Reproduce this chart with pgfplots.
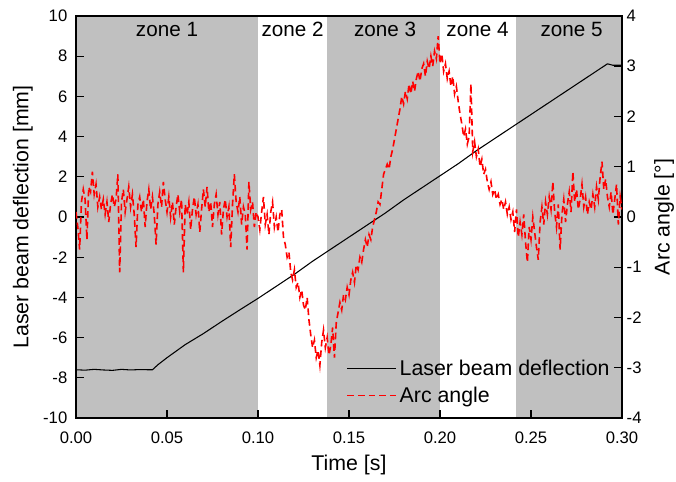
\documentclass[border=0pt]{standalone}
\usepackage{fontspec}
\setmainfont{Liberation Sans}
\usepackage{pgfplots}
\usepackage{pgfplotstable}
\pgfplotsset{compat=1.18}
\definecolor{zonegray}{RGB}{192,192,192}

\pgfplotstableread{
t y
0.000 -7.60
0.005 -7.62
0.010 -7.58
0.015 -7.61
0.020 -7.63
0.025 -7.58
0.030 -7.61
0.035 -7.59
0.040 -7.60
0.042 -7.60
0.045 -7.35
0.050 -7.00
0.060 -6.35
0.070 -5.80
0.080 -5.20
0.090 -4.62
0.100 -4.05
0.110 -3.45
0.120 -2.85
0.130 -2.20
0.140 -1.60
0.150 -1.00
0.160 -0.40
0.170 0.20
0.180 0.85
0.190 1.45
0.200 2.05
0.210 2.65
0.220 3.30
0.230 3.90
0.240 4.50
0.250 5.10
0.260 5.70
0.270 6.30
0.280 6.90
0.290 7.50
0.292 7.62
0.295 7.55
0.300 7.55
}\laserdata

\pgfplotstableread{
t y
0.000 0.10
0.001 -0.20
0.002 -0.65
0.003 0.30
0.004 0.55
0.005 0.35
0.006 -0.45
0.007 0.60
0.008 0.50
0.009 0.90
0.010 0.45
0.011 0.65
0.012 0.20
0.013 0.40
0.014 0.15
0.015 0.35
0.016 0.05
0.017 0.30
0.018 -0.10
0.019 0.25
0.020 0.45
0.021 0.20
0.022 0.35
0.023 0.85
0.024 -1.10
0.025 0.30
0.026 0.55
0.027 0.10
0.028 0.35
0.029 0.60
0.030 0.20
0.031 0.45
0.032 0.05
0.033 -0.60
0.034 0.25
0.035 0.40
0.036 0.10
0.037 0.35
0.038 -0.20
0.039 0.30
0.040 0.55
0.041 0.15
0.042 0.40
0.043 0.05
0.044 -0.55
0.045 0.25
0.046 0.50
0.047 0.20
0.048 0.70
0.049 0.35
0.050 0.10
0.051 0.40
0.052 0.00
0.053 0.30
0.054 -0.15
0.055 0.20
0.056 0.45
0.057 0.10
0.058 0.35
0.059 -1.10
0.060 0.25
0.061 0.05
0.062 0.30
0.063 -0.25
0.064 0.15
0.065 0.40
0.066 0.05
0.067 0.25
0.068 -0.30
0.069 0.15
0.070 0.55
0.071 0.20
0.072 0.60
0.073 0.10
0.074 0.30
0.075 -0.20
0.076 0.25
0.077 0.45
0.078 0.05
0.079 0.30
0.080 -0.35
0.081 0.15
0.082 0.35
0.083 0.00
0.084 0.20
0.085 -0.60
0.086 0.25
0.087 0.85
0.088 0.30
0.089 0.10
0.090 0.40
0.091 -0.15
0.092 0.20
0.093 0.05
0.094 -0.65
0.095 0.70
0.096 0.15
0.097 0.30
0.098 -0.20
0.099 0.10
0.100 0.00
0.101 -0.25
0.102 0.10
0.103 0.40
0.104 -0.15
0.105 0.05
0.106 -0.35
0.107 0.10
0.108 0.30
0.109 -0.20
0.110 0.00
0.111 -0.30
0.112 0.05
0.113 0.15
0.114 -0.40
0.115 -0.55
0.116 -0.80
0.117 -0.70
0.118 -1.10
0.119 -1.25
0.120 -1.05
0.121 -1.40
0.122 -1.30
0.123 -1.60
0.124 -1.45
0.125 -1.75
0.126 -1.85
0.127 -1.60
0.128 -2.05
0.129 -2.35
0.130 -2.60
0.131 -2.45
0.132 -2.80
0.133 -2.65
0.134 -2.95
0.135 -2.50
0.136 -2.25
0.137 -2.60
0.138 -2.40
0.139 -2.75
0.140 -2.55
0.141 -2.20
0.142 -2.80
0.143 -2.10
0.144 -1.90
0.145 -1.70
0.146 -1.85
0.147 -1.55
0.148 -1.65
0.149 -1.40
0.150 -1.55
0.151 -1.25
0.152 -1.10
0.153 -1.30
0.154 -0.95
0.155 -1.05
0.156 -0.80
0.157 -0.90
0.158 -0.65
0.159 -0.45
0.160 -0.60
0.161 -0.35
0.162 -0.45
0.163 -0.20
0.164 -0.05
0.165 0.10
0.166 0.30
0.167 0.25
0.168 0.55
0.169 0.85
0.170 0.95
0.171 1.05
0.172 0.95
0.173 1.20
0.174 1.35
0.175 1.55
0.176 1.75
0.177 1.95
0.178 2.15
0.179 2.40
0.180 2.25
0.181 2.50
0.182 2.35
0.183 2.65
0.184 2.45
0.185 2.70
0.186 2.50
0.187 2.75
0.188 2.90
0.189 2.70
0.190 2.95
0.191 3.05
0.192 2.80
0.193 3.10
0.194 2.95
0.195 3.20
0.196 3.00
0.197 3.30
0.198 3.15
0.199 3.60
0.200 3.05
0.201 3.25
0.202 2.90
0.203 3.05
0.204 2.75
0.205 2.90
0.206 2.60
0.207 2.80
0.208 2.45
0.209 2.60
0.210 2.30
0.211 2.05
0.212 1.85
0.213 1.60
0.214 1.75
0.215 1.45
0.216 1.60
0.217 2.65
0.218 1.30
0.219 1.50
0.220 1.20
0.221 1.35
0.222 1.00
0.223 1.15
0.224 0.85
0.225 0.95
0.226 0.70
0.227 0.55
0.228 0.70
0.229 0.45
0.230 0.55
0.231 0.35
0.232 0.45
0.233 0.25
0.234 0.35
0.235 0.15
0.236 0.30
0.237 0.05
0.238 0.20
0.239 -0.05
0.240 0.10
0.241 -0.30
0.242 0.15
0.243 -0.40
0.244 -0.10
0.245 -0.35
0.246 0.05
0.247 -0.50
0.248 -0.90
0.249 -0.20
0.250 -0.45
0.251 0.00
0.252 -0.30
0.253 -0.60
0.254 -0.85
0.255 -0.10
0.256 0.20
0.257 -0.15
0.258 0.30
0.259 0.05
0.260 0.40
0.261 0.15
0.262 0.70
0.263 0.10
0.264 -0.20
0.265 0.25
0.266 -0.65
0.267 0.05
0.268 0.35
0.269 -0.10
0.270 0.25
0.271 0.50
0.272 0.10
0.273 0.90
0.274 0.30
0.275 0.55
0.276 0.15
0.277 0.35
0.278 0.65
0.279 0.20
0.280 0.40
0.281 0.05
0.282 0.30
0.283 0.15
0.284 0.45
0.285 0.20
0.286 0.60
0.287 0.35
0.288 0.80
0.289 1.10
0.290 0.55
0.291 0.75
0.292 0.40
0.293 0.20
0.294 0.50
0.295 0.05
0.296 0.35
0.297 0.65
0.298 -0.15
0.299 0.40
0.300 0.15
}\arcdata

\begin{document}
\begin{tikzpicture}
\begin{axis}[
  name=main,
  scale only axis, width=409.5pt, height=301.5pt,
  xmin=0, xmax=0.3, ymin=-10, ymax=10,
  xtick={0,0.05,0.1,0.15,0.2,0.25,0.3},
  ytick={-10,-8,-6,-4,-2,0,2,4,6,8,10},
  xtick pos=bottom, ytick pos=left,
  tick align=inside,
  major tick length=6pt,
  minor tick num=0,
  axis line style={line width=0.9pt},
  every tick/.style={line width=0.9pt, black},
  /pgf/number format/assume math mode=true,
  scaled x ticks=false,
  xticklabel style={/pgf/number format/.cd, fixed, fixed zerofill, precision=2, /tikz/.cd, yshift=-7pt},
  yticklabel style={xshift=-3pt},
  ticklabel style={font=\fontsize{12.5}{15}\selectfont},
  xlabel={Time [s]},
  ylabel={Laser beam deflection [mm]},
  label style={font=\fontsize{16}{19}\selectfont},
  xlabel style={at={(axis description cs:0.5,-0.1169)}, anchor=center},
  ylabel style={at={(axis description cs:-0.0971,0.5)}, anchor=center},
  axis on top,
]
\addplot[draw=none, fill=zonegray] coordinates {(0,-10) (0.1,-10) (0.1,10) (0,10)};
\addplot[draw=none, fill=zonegray] coordinates {(0.138,-10) (0.2,-10) (0.2,10) (0.138,10)};
\addplot[draw=none, fill=zonegray] coordinates {(0.242,-10) (0.3,-10) (0.3,10) (0.242,10)};
\addplot[black, line width=0.8pt] table[x=t, y=y] {\laserdata};
\node[anchor=north, inner sep=0pt, yshift=-4.5pt, font=\fontsize{15.5}{18}\selectfont] at (axis cs:0.05,10) {zone 1};
\node[anchor=north, inner sep=0pt, yshift=-4.5pt, font=\fontsize{15.5}{18}\selectfont] at (axis cs:0.119,10) {zone 2};
\node[anchor=north, inner sep=0pt, yshift=-4.5pt, font=\fontsize{15.5}{18}\selectfont] at (axis cs:0.1698,10) {zone 3};
\node[anchor=north, inner sep=0pt, yshift=-4.5pt, font=\fontsize{15.5}{18}\selectfont] at (axis cs:0.2206,10) {zone 4};
\node[anchor=north, inner sep=0pt, yshift=-4.5pt, font=\fontsize{15.5}{18}\selectfont] at (axis cs:0.2723,10) {zone 5};
\end{axis}
\begin{axis}[
  scale only axis, width=409.5pt, height=301.5pt,
  xmin=0, xmax=0.3, ymin=-4, ymax=4,
  axis x line=none, axis y line*=right,
  ytick={-4,-3,-2,-1,0,1,2,3,4},
  tick align=inside,
  major tick length=6pt,
  minor tick num=0,
  axis line style={line width=0.9pt},
  every tick/.style={line width=0.9pt, black},
  /pgf/number format/assume math mode=true,
  ticklabel style={font=\fontsize{12.5}{15}\selectfont},
  ylabel={Arc angle [°]},
  label style={font=\fontsize{16}{19}\selectfont},
  ylabel style={at={(axis description cs:1.0769,0.5)}, anchor=center, rotate=0},
  legend style={draw=none, fill=none, font=\fontsize{16}{19}\selectfont,
    at={(0.99,0.02)}, anchor=south east, row sep=3pt},
  legend cell align=left,
  legend image code/.code={\draw[#1] (0pt,0pt) -- (36.75pt,0pt);},
]
\addlegendimage{black, line width=0.8pt}
\addlegendentry{Laser beam deflection}
\addplot[red, line width=1.2pt, dash pattern=on 5pt off 3pt] table[x=t, y=y] {\arcdata};
\addlegendentry{Arc angle}
\end{axis}
\pgfresetboundingbox
\useasboundingbox ([shift={(-57pt,-47.25pt)}]main.south west) rectangle ([shift={(40.5pt,12pt)}]main.north east);
\end{tikzpicture}
\end{document}
